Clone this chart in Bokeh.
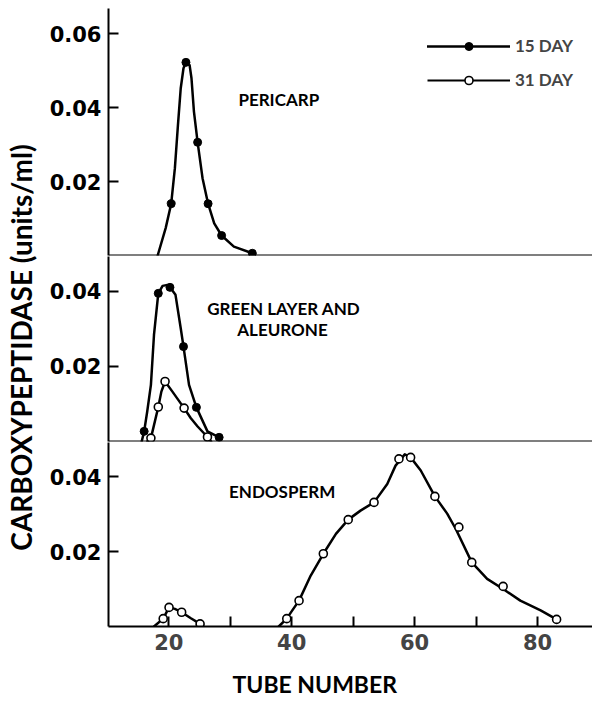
from math import pi
from bokeh.plotting import figure
from bokeh.layouts import row, column
from bokeh.models import (FixedTicker, PrintfTickFormatter, Range1d, Span, Label,
                          Legend, LegendItem, Title)
from bokeh.embed import file_html
from bokeh.resources import INLINE

# ---------------- data ----------------
# Pericarp, 15 day: measured points and the drawn curve
peri15_x = [20.4, 22.8, 24.7, 26.4, 28.6, 33.6]
peri15_y = [0.0140, 0.0522, 0.0306, 0.0140, 0.0054, 0.0006]
peri15_curve_x = [18.2, 19.5, 20.4, 21.0, 21.5, 21.95, 22.4, 22.8, 23.4, 23.7, 24.1,
                  24.7, 25.5, 26.4, 27.4, 28.6, 30.6, 33.6]
peri15_curve_y = [0.0, 0.0074, 0.0140, 0.0236, 0.0353, 0.0452, 0.0506, 0.0522, 0.0514,
                  0.0479, 0.0389, 0.0306, 0.0209, 0.0140, 0.0087, 0.0054, 0.0024, 0.0006]

# Green layer and aleurone, 15 day
green15_x = [16.0, 18.3, 20.2, 22.4, 24.5, 28.2]
green15_y = [0.0027, 0.0395, 0.0411, 0.0253, 0.0091, 0.0011]
green15_curve_x = [15.6, 16.0, 16.5, 17.1, 17.6, 18.3, 19.0, 19.6, 20.2, 21.1, 21.95,
                   22.4, 23.3, 24.5, 26.3, 28.2]
green15_curve_y = [0.0, 0.0027, 0.0080, 0.0151, 0.0284, 0.0395, 0.0415, 0.0417, 0.0411,
                   0.0391, 0.0302, 0.0253, 0.0151, 0.0091, 0.0027, 0.0011]

# Green layer and aleurone, 31 day
green31_x = [17.1, 18.3, 19.4, 22.5, 26.3]
green31_y = [0.0009, 0.0092, 0.0160, 0.0089, 0.0012]
green31_curve_x = [16.5, 17.1, 18.3, 18.8, 19.4, 20.6, 22.5, 23.6, 24.7, 26.3, 26.9]
green31_curve_y = [0.0, 0.0009, 0.0092, 0.0133, 0.0160, 0.0133, 0.0089, 0.0062, 0.0040,
                   0.0012, 0.0]

# Endosperm, 31 day: small early peak
endoA31_x = [19.1, 20.05, 22.1, 25.1]
endoA31_y = [0.0021, 0.0051, 0.0038, 0.0007]
endoA31_curve_x = [17.6, 19.1, 20.05, 21.0, 22.1, 23.6, 25.1]
endoA31_curve_y = [0.0, 0.0021, 0.0051, 0.0047, 0.0038, 0.0022, 0.0007]

# Endosperm, 31 day: main peak
endoB31_x = [39.2, 41.2, 45.15, 49.2, 53.4, 57.45, 59.35, 63.3, 67.2, 69.3, 74.4, 83.1]
endoB31_y = [0.0021, 0.0069, 0.0194, 0.0285, 0.0331, 0.0447, 0.0451, 0.0347, 0.0265,
             0.0171, 0.0107, 0.0019]
endoB31_curve_x = [37.9, 39.2, 40.1, 41.2, 43.1, 45.15, 47.2, 49.2, 51.2, 53.4, 55.55,
                   56.9, 58.4, 59.35, 61.0, 63.3, 65.3, 66.7, 69.3, 71.8, 74.4, 77.2,
                   80.5, 83.1]
endoB31_curve_y = [0.0, 0.0021, 0.0043, 0.0069, 0.0136, 0.0194, 0.0247, 0.0285, 0.0309,
                   0.0331, 0.0380, 0.0429, 0.0459, 0.0451, 0.0416, 0.0347, 0.0301,
                   0.0260, 0.0171, 0.0127, 0.0100, 0.0069, 0.0043, 0.0019]

x_ticks = [20, 40, 60, 80]
x_minor_ticks = [30, 50, 70]
y_ticks_top = [0.02, 0.04, 0.06]
y_ticks_low = [0.02, 0.04]

# ---------------- styling ----------------
NUM_FONT = "DejaVu Sans"
TXT_FONT = "Lato"
LW = 2.5
NAN = float("nan")

shared_x = Range1d(10.2, 88.94)


def panel(frame_h, y_end, ticks, x_axis, border_top=0):
    p = figure(frame_width=484, frame_height=frame_h, x_range=shared_x,
               y_range=Range1d(0, y_end),
               x_axis_type="linear" if x_axis else None,
               output_backend="svg", toolbar_location=None,
               min_border_left=65, min_border_right=0, min_border_top=border_top,
               min_border_bottom=0 if x_axis else 1)
    p.outline_line_color = None
    p.background_fill_color = "white"
    p.border_fill_color = "white"
    for g in p.grid:
        g.grid_line_color = None
    ax = p.yaxis[0]
    ax.ticker = FixedTicker(ticks=ticks, minor_ticks=[])
    ax.formatter = PrintfTickFormatter(format="%.2f")
    ax.major_tick_in = 10
    ax.major_tick_out = 0
    ax.major_tick_line_width = 2
    ax.minor_tick_line_color = None
    ax.axis_line_width = 2
    ax.major_label_standoff = 7
    ax.major_label_text_font = NUM_FONT
    ax.major_label_text_font_style = "bold"
    ax.major_label_text_font_size = "21px"
    ax.major_label_text_color = "black"
    if not x_axis:
        p.add_layout(Span(location=0, dimension="width", line_color="black",
                          line_width=2))
    return p


def curve(p, cx, cy):
    return p.line(cx, cy, line_color="black", line_width=LW, line_join="round",
                  line_cap="round")


def filled(p, x, y):
    return p.scatter(x, y, marker="circle", size=8, fill_color="black",
                     line_color="black")


def opened(p, x, y):
    return p.scatter(x, y, marker="circle", size=8, fill_color="white",
                     line_color="black", line_width=1.6)


def panel_label(p, x, y, text):
    p.add_layout(Label(x=x, y=y, text=text, text_align="center",
                       text_baseline="alphabetic", text_font=TXT_FONT,
                       text_font_style="bold", text_font_size="17px",
                       text_color="black"))


# ---- top: pericarp ----
top = panel(247, 0.06676, y_ticks_top, False, border_top=8)
l15 = curve(top, peri15_curve_x, peri15_curve_y)
s15 = filled(top, peri15_x, peri15_y)
# legend-only sample renderers for the 31 day style (no visible data here)
l31 = top.line([NAN], [NAN], line_color="black", line_width=2)
s31 = opened(top, [NAN], [NAN])
panel_label(top, 37.9, 0.0422, "PERICARP")
legend = Legend(items=[LegendItem(label="15 DAY", renderers=[l15, s15]),
                       LegendItem(label="31 DAY", renderers=[l31, s31])],
                location=(319, 165), glyph_width=83, glyph_height=20,
                label_height=20, spacing=13, padding=0, margin=0,
                border_line_color=None, background_fill_alpha=0,
                label_standoff=5, label_text_font=TXT_FONT,
                label_text_font_style="bold", label_text_font_size="17px")
top.add_layout(legend)

# ---- middle: green layer and aleurone ----
mid = panel(185, 0.04933, y_ticks_low, False)
curve(mid, green15_curve_x, green15_curve_y)
curve(mid, green31_curve_x, green31_curve_y)
filled(mid, green15_x, green15_y)
opened(mid, green31_x, green31_y)
panel_label(mid, 38.7, 0.0355, "GREEN LAYER AND")
panel_label(mid, 38.5, 0.0298, "ALEURONE")

# ---- bottom: endosperm ----
bot = panel(184, 0.04907, y_ticks_low, True)
curve(bot, endoA31_curve_x, endoA31_curve_y)
curve(bot, endoB31_curve_x, endoB31_curve_y)
opened(bot, endoA31_x, endoA31_y)
opened(bot, endoB31_x, endoB31_y)
panel_label(bot, 38.45, 0.0361, "ENDOSPERM")
xa = bot.xaxis[0]
xa.ticker = FixedTicker(ticks=x_ticks, minor_ticks=x_minor_ticks)
xa.major_tick_in = 10
xa.major_tick_out = 0
xa.minor_tick_in = 10
xa.minor_tick_out = 0
xa.major_tick_line_width = 2
xa.minor_tick_line_width = 2
xa.axis_line_width = 2
xa.major_label_standoff = 7
xa.major_label_text_font = NUM_FONT
xa.major_label_text_font_style = "bold"
xa.major_label_text_font_size = "21px"
# x-axis title, set left of the frame centre as in the original
bot.add_layout(Title(text="TUBE NUMBER", align="left", offset=124, standoff=30,
                     text_font=TXT_FONT, text_font_style="bold",
                     text_font_size="23px", text_color="black"), "below")

# ---- y-axis title spanning all panels ----
lab = figure(width=43, height=698, x_range=Range1d(0, 1), y_range=Range1d(0, 1),
             x_axis_type=None, y_axis_type=None, output_backend="svg",
             toolbar_location=None, min_border=0)
lab.outline_line_color = None
lab.add_layout(Label(x=20, y=351, x_units="screen", y_units="screen", angle=pi / 2,
                     text="CARBOXYPEPTIDASE (units/ml)", text_align="center",
                     text_baseline="middle", text_font=TXT_FONT,
                     text_font_style="bold", text_font_size="28px",
                     text_color="black"))

layout = row(lab, column(top, mid, bot))
open("out.html", "w").write(file_html(layout, INLINE))
